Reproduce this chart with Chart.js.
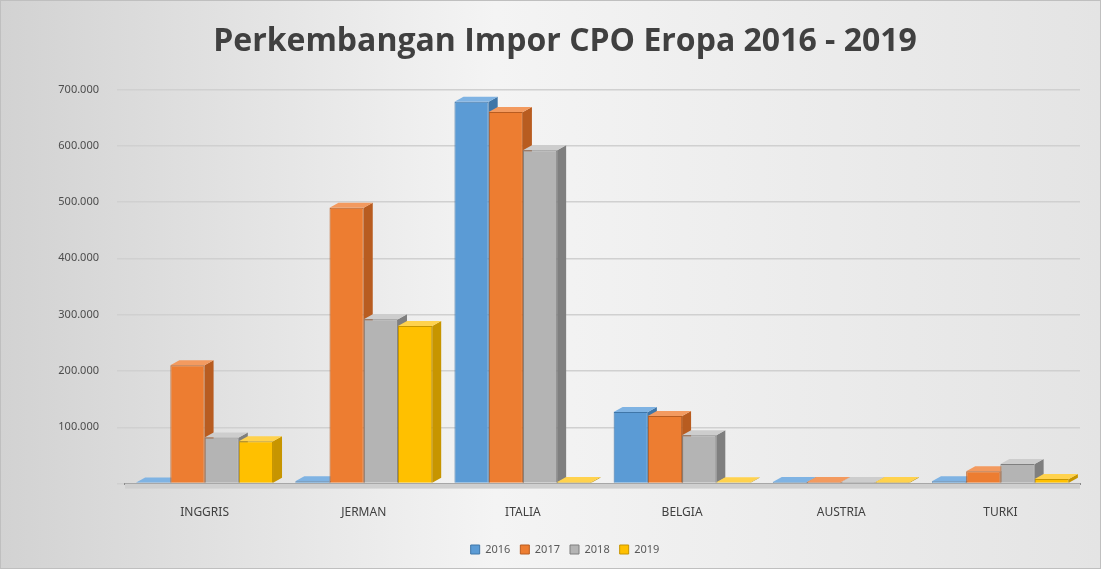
<!DOCTYPE html>
<html>
<head>
<meta charset="utf-8">
<script src="https://cdn.jsdelivr.net/npm/chart.js@4.4.1/dist/chart.umd.min.js"></script>
<style>
  html, body { margin: 0; padding: 0; background: #fff; }
  #wrap { width: 1101px; height: 569px; }
</style>
</head>
<body>
<div id="wrap"><canvas id="chart"></canvas></div>
<script>
// data
const countries = ['INGGRIS', 'JERMAN', 'ITALIA', 'BELGIA', 'AUSTRIA', 'TURKI'];
const years = ['2016', '2017', '2018', '2019'];
const impor2016 = [2000, 4000, 678000, 127000, 3000, 4000];
const impor2017 = [210000, 490000, 660000, 120000, 3000, 22000];
const impor2018 = [82000, 292000, 592000, 86000, 3000, 35000];
const impor2019 = [75000, 280000, 3000, 2500, 3000, 8000];

const fronts = ['#5b9bd5', '#ed7d31', '#b4b4b4', '#ffc000'];
const sides  = ['#3f76a8', '#b85c20', '#7f7f7f', '#c79500'];
const tops   = ['#7fb3e3', '#f39a5f', '#cdcdcd', '#ffd24d'];

const fmt = v => v.toLocaleString('id-ID');

// background gradient + frame
const bgPlugin = {
  id: 'bg',
  beforeDraw(chart) {
    const { ctx, width, height } = chart;
    const g = ctx.createLinearGradient(0, 0, width, 0);
    g.addColorStop(0, '#d2d2d2');
    g.addColorStop(0.45, '#f4f4f4');
    g.addColorStop(1, '#e4e4e4');
    ctx.save();
    ctx.fillStyle = g;
    ctx.fillRect(0, 0, width, height);
    ctx.strokeStyle = '#bfbfbf';
    ctx.lineWidth = 1;
    ctx.strokeRect(0.5, 0.5, width - 1, height - 1);
    ctx.restore();
  }
};

// fake 3D: top and side faces behind each bar, plus floor
const depthPlugin = {
  id: 'depth',
  beforeDatasetsDraw(chart) {
    const ctx = chart.ctx;
    const a = chart.chartArea;
    const dx = 9, dy = 5;
    ctx.save();
    ctx.fillStyle = '#cfcfcf';
    ctx.fillRect(a.left, a.bottom, a.right - a.left, 5);
    chart.data.datasets.forEach((ds, i) => {
      chart.getDatasetMeta(i).data.forEach(bar => {
        const l = bar.x - bar.width / 2, r = bar.x + bar.width / 2;
        const top = bar.y, bottom = bar.base;
        ctx.fillStyle = sides[i];
        ctx.beginPath();
        ctx.moveTo(r, top);
        ctx.lineTo(r + dx, top - dy);
        ctx.lineTo(r + dx, bottom - dy);
        ctx.lineTo(r, bottom);
        ctx.closePath();
        ctx.fill();
        ctx.fillStyle = tops[i];
        ctx.beginPath();
        ctx.moveTo(l, top);
        ctx.lineTo(l + dx, top - dy);
        ctx.lineTo(r + dx, top - dy);
        ctx.lineTo(r, top);
        ctx.closePath();
        ctx.fill();
      });
    });
    ctx.restore();
  }
};

const series = [impor2016, impor2017, impor2018, impor2019];

new Chart(document.getElementById('chart'), {
  type: 'bar',
  data: {
    labels: countries,
    datasets: years.map((y, i) => ({
      label: y,
      data: series[i],
      backgroundColor: fronts[i],
      borderColor: sides[i],
      borderWidth: 1,
      categoryPercentage: 0.86,
      barPercentage: 1.0
    }))
  },
  options: {
    responsive: true,
    maintainAspectRatio: false,
    animation: false,
    layout: { padding: { left: 50, right: 21, top: 0, bottom: 4 } },
    plugins: {
      title: {
        display: true,
        text: 'Perkembangan Impor CPO Eropa 2016 - 2019',
        color: '#404040',
        font: { family: 'Open Sans', size: 32, weight: 'bold' },
        padding: { top: 23, bottom: 28 }
      },
      legend: {
        position: 'bottom',
        labels: {
          color: '#595959',
          font: { family: 'Noto Sans', size: 11 },
          boxWidth: 9,
          boxHeight: 9,
          padding: 10
        }
      },
      tooltip: { enabled: false }
    },
    scales: {
      x: {
        grid: { display: false },
        border: { color: '#8c8c8c', width: 2 },
        ticks: {
          color: '#404040',
          font: { family: 'Noto Sans', size: 12 },
          padding: 14
        }
      },
      y: {
        min: 0,
        max: 700000,
        afterFit: s => { s.width = 75; },
        grid: { color: '#d0d0d0', lineWidth: 1.5 },
        border: { display: false },
        ticks: {
          stepSize: 100000,
          color: '#4d4d4d',
          font: { family: 'Noto Sans', size: 11 },
          padding: 18,
          callback: v => v === 0 ? '' : fmt(v)
        }
      }
    }
  },
  plugins: [bgPlugin, depthPlugin]
});
</script>
</body>
</html>
